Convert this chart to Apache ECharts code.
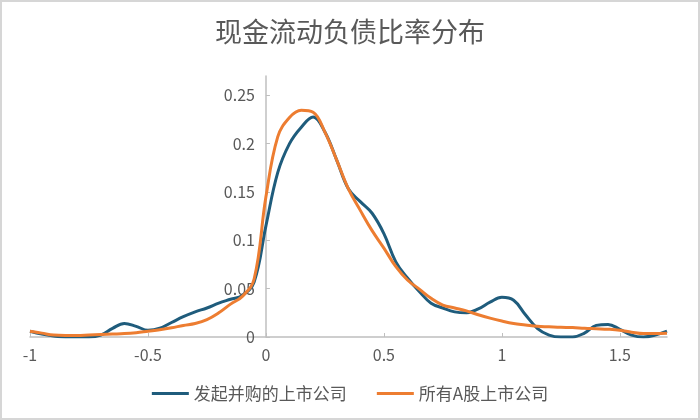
<!DOCTYPE html>
<html>
<head>
<meta charset="utf-8">
<script src="https://cdn.jsdelivr.net/npm/echarts@6/dist/echarts.min.js"></script>
<style>
html,body{margin:0;padding:0;background:#fff;}
#wrap{position:relative;width:700px;height:420px;}
#chart{width:700px;height:420px;}
#frame{position:absolute;left:0;top:0;width:700px;height:420px;box-sizing:border-box;border:2px solid #d6d6d6;pointer-events:none;}
</style>
</head>
<body>
<div id="wrap"><div id="chart"></div><div id="frame"></div></div>
<script>
var titleText = '现金流动负债比率分布';
var seriesNames = ['发起并购的上市公司', '所有A股上市公司'];
var xValues = [-1.00,-0.95,-0.90,-0.85,-0.80,-0.75,-0.70,-0.65,-0.60,-0.55,-0.50,-0.45,-0.40,-0.35,-0.30,-0.25,-0.20,-0.15,-0.10,-0.05,
  0.00,0.05,0.10,0.15,0.20,0.25,0.30,0.35,0.40,0.45,0.50,0.55,0.60,0.65,0.70,0.75,0.80,0.85,0.90,0.95,
  1.00,1.05,1.10,1.15,1.20,1.25,1.30,1.35,1.40,1.45,1.50,1.55,1.60,1.65,1.70];
var mergerValues = [0.006,0.003,0.001,0.000,0.000,0.000,0.002,0.009,0.014,0.011,0.007,0.009,0.015,0.021,0.026,0.030,0.035,0.039,0.043,0.057,
  0.115,0.170,0.200,0.217,0.2275,0.212,0.183,0.153,0.140,0.128,0.107,0.078,0.061,0.047,0.035,0.030,0.026,0.025,0.029,0.036,
  0.041,0.038,0.023,0.009,0.002,0.000,0.000,0.004,0.012,0.013,0.008,0.002,0.000,0.002,0.006];
var allValues = [0.006,0.004,0.002,0.0015,0.0015,0.002,0.0025,0.003,0.0035,0.0045,0.006,0.0075,0.0095,0.012,0.014,0.018,0.025,0.034,0.042,0.060,
  0.145,0.207,0.227,0.2345,0.2325,0.212,0.183,0.153,0.131,0.110,0.092,0.073,0.059,0.0495,0.040,0.033,0.030,0.027,0.023,0.0195,
  0.0165,0.014,0.0125,0.011,0.0105,0.010,0.0098,0.009,0.0085,0.008,0.007,0.005,0.0035,0.0035,0.004];

function pairs(ys){ return xValues.map(function(x,i){ return [x, ys[i]]; }); }

var gridLeft = 30, gridRight = 33;
var xMin = -1, xMax = 1.7;
// pixel distance from grid left edge to x = 0
var zeroOffset = (700 - gridLeft - gridRight) * (0 - xMin) / (xMax - xMin);

var chart = echarts.init(document.getElementById('chart'));
var font = "'Noto Sans CJK SC', 'Liberation Sans', sans-serif";
chart.setOption({
  animation: false,
  backgroundColor: '#ffffff',
  title: {
    text: titleText, left: 'center', top: 13,
    textStyle: { fontSize: 27, fontWeight: 'normal', color: '#595959', fontFamily: font }
  },
  grid: { left: gridLeft, right: gridRight, top: 76, bottom: 83, containLabel: false, outerBoundsMode: 'none' },
  legend: {
    bottom: 13, left: 'center', itemWidth: 37, itemHeight: 3, itemGap: 30, icon: 'rect',
    textStyle: { fontSize: 17, color: '#595959', fontFamily: font },
    data: seriesNames
  },
  xAxis: {
    type: 'value', min: xMin, max: xMax, interval: 0.5,
    axisLine: { lineStyle: { color: '#bfbfbf', width: 1.5 } },
    axisTick: { inside: true, length: 4, lineStyle: { color: '#bfbfbf' } },
    axisLabel: { showMaxLabel: false, fontSize: 16, color: '#595959', margin: 10, fontFamily: font },
    splitLine: { show: false }
  },
  yAxis: {
    type: 'value', min: 0, max: 0.27, interval: 0.05, offset: -zeroOffset,
    axisLine: { show: true, onZero: false, lineStyle: { color: '#bfbfbf', width: 1.5 } },
    axisTick: { show: true, inside: true, length: 4, lineStyle: { color: '#bfbfbf' } },
    axisLabel: { showMaxLabel: false, fontSize: 16, color: '#595959', margin: 11, fontFamily: font },
    splitLine: { show: false }
  },
  series: [
    { name: seriesNames[0], type: 'line', data: pairs(mergerValues), smooth: 0.4, symbol: 'none',
      lineStyle: { color: '#1f5c7c', width: 3 }, itemStyle: { color: '#1f5c7c' } },
    { name: seriesNames[1], type: 'line', data: pairs(allValues), smooth: 0.4, symbol: 'none',
      lineStyle: { color: '#ed7d31', width: 3 }, itemStyle: { color: '#ed7d31' } }
  ]
});
</script>
</body>
</html>
